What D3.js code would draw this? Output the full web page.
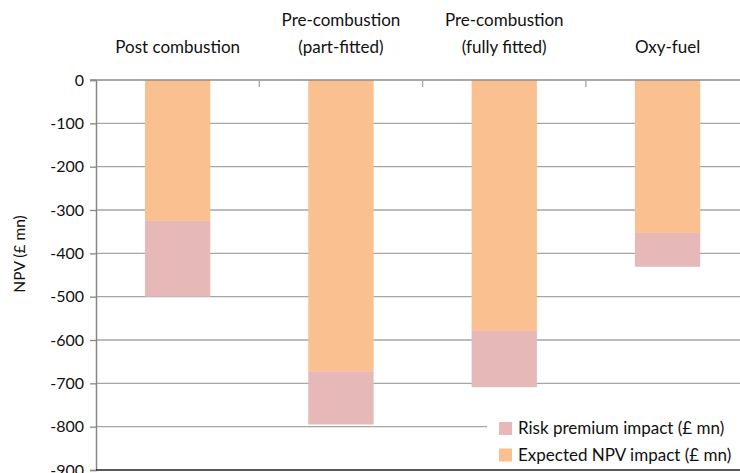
<!DOCTYPE html>
<html>
<head>
<meta charset="utf-8">
<script src="https://cdn.jsdelivr.net/npm/d3@7"></script>
<style>
  html, body { margin: 0; padding: 0; background: #fff; }
  svg { display: block; }
  text { font-family: Lato, "Open Sans", sans-serif; fill: #111; }
</style>
</head>
<body>
<svg id="chart" width="740" height="473"></svg>
<script>
// Technology options (two-line labels split on "|")
const categories = [
  "Post combustion",
  "Pre-combustion|(part-fitted)",
  "Pre-combustion|(fully fitted)",
  "Oxy-fuel"
];
// Expected NPV impact (£ mn)
const expectedNPV = [-325, -672, -579, -353];
// Additional risk premium impact (£ mn), stacked below the expected NPV
const riskPremium = [-175, -123, -130, -78];
const yTicks = [0, -100, -200, -300, -400, -500, -600, -700, -800, -900];
const seriesNames = ["Risk premium impact (£ mn)", "Expected NPV impact (£ mn)"];
const colors = { risk: "#E6B9B8", expected: "#FAC090" };

const svg = d3.select("#chart");
const margin = { left: 96, top: 80 };
const bandW = 163.3;
const x = d3.scaleBand()
  .domain(categories)
  .range([margin.left, margin.left + bandW * categories.length])
  .paddingInner(0.6)
  .paddingOuter(0.3);
const y = d3.scaleLinear().domain([0, -900]).range([80, 470]);

// horizontal gridlines
svg.append("g")
  .selectAll("line")
  .data(yTicks.filter(d => d !== 0 && d !== -900))
  .join("line")
  .attr("x1", margin.left).attr("x2", 740)
  .attr("y1", d => y(d)).attr("y2", d => y(d))
  .attr("stroke", "#a6a6a6").attr("stroke-width", 1.3);

// stacked bars
const rows = categories.map((c, i) => ({
  cat: c,
  exp: expectedNPV[i],
  total: expectedNPV[i] + riskPremium[i]
}));
svg.append("g").selectAll("rect.exp")
  .data(rows).join("rect")
  .attr("x", d => x(d.cat)).attr("width", x.bandwidth())
  .attr("y", y(0)).attr("height", d => y(d.exp) - y(0))
  .attr("fill", colors.expected);
svg.append("g").selectAll("rect.risk")
  .data(rows).join("rect")
  .attr("x", d => x(d.cat)).attr("width", x.bandwidth())
  .attr("y", d => y(d.exp)).attr("height", d => y(d.total) - y(d.exp))
  .attr("fill", colors.risk);

// y axis (plain hyphen for negatives)
const yAxis = d3.axisLeft(y).tickValues(yTicks).tickSize(6).tickPadding(6)
  .tickFormat(d => String(d));
const gy = svg.append("g").attr("transform", `translate(${margin.left},0)`).call(yAxis);
gy.select(".domain").attr("stroke", "#868686").attr("stroke-width", 1.5);
gy.selectAll(".tick line").attr("stroke", "#868686").attr("stroke-width", 1.3);
gy.selectAll(".tick text").style("font-size", "16px").attr("fill", "#111")
  .style("font-family", "Lato, sans-serif");

// top category axis (zero line) with boundary ticks
svg.append("line")
  .attr("x1", margin.left - 6).attr("x2", 740)
  .attr("y1", y(0)).attr("y2", y(0))
  .attr("stroke", "#8c8c8c").attr("stroke-width", 1.6);
svg.append("g").selectAll("line")
  .data(categories.slice(1))
  .join("line")
  .attr("x1", d => x(d) - x.step() * x.paddingInner() / 2)
  .attr("x2", d => x(d) - x.step() * x.paddingInner() / 2)
  .attr("y1", y(0)).attr("y2", y(0) + 7)
  .attr("stroke", "#a6a6a6").attr("stroke-width", 1.3);

// category labels above the plot
svg.append("g").selectAll("text")
  .data(categories)
  .join("text")
  .attr("text-anchor", "middle")
  .style("font-size", "17px")
  .each(function (d) {
    const lines = d.split("|");
    const t = d3.select(this);
    const cx = x(d) + x.bandwidth() / 2;
    const y0 = 53 - (lines.length - 1) * 27;
    lines.forEach((ln, i) => {
      t.append("tspan").attr("x", cx).attr("y", y0 + i * 27).text(ln);
    });
  });

// y axis title
svg.append("text")
  .attr("transform", "translate(25,254) rotate(-90)")
  .attr("text-anchor", "middle")
  .style("font-size", "15.5px")
  .text("NPV (£ mn)");

// legend with white backing
const lg = svg.append("g");
lg.append("rect").attr("x", 487).attr("y", 412).attr("width", 253).attr("height", 56)
  .attr("fill", "#fff");
const legendItems = [
  { name: seriesNames[0], color: colors.risk },
  { name: seriesNames[1], color: colors.expected }
];
legendItems.forEach((it, i) => {
  const yy = 422 + i * 26.5;
  lg.append("rect").attr("x", 499).attr("y", yy).attr("width", 13).attr("height", 13)
    .attr("fill", it.color);
  lg.append("text").attr("x", 518).attr("y", yy + 12)
    .style("font-size", "17px").text(it.name);
});

// bottom baseline
svg.append("line")
  .attr("x1", margin.left).attr("x2", 740)
  .attr("y1", y(-900)).attr("y2", y(-900))
  .attr("stroke", "#222").attr("stroke-width", 1.5);
</script>
</body>
</html>
